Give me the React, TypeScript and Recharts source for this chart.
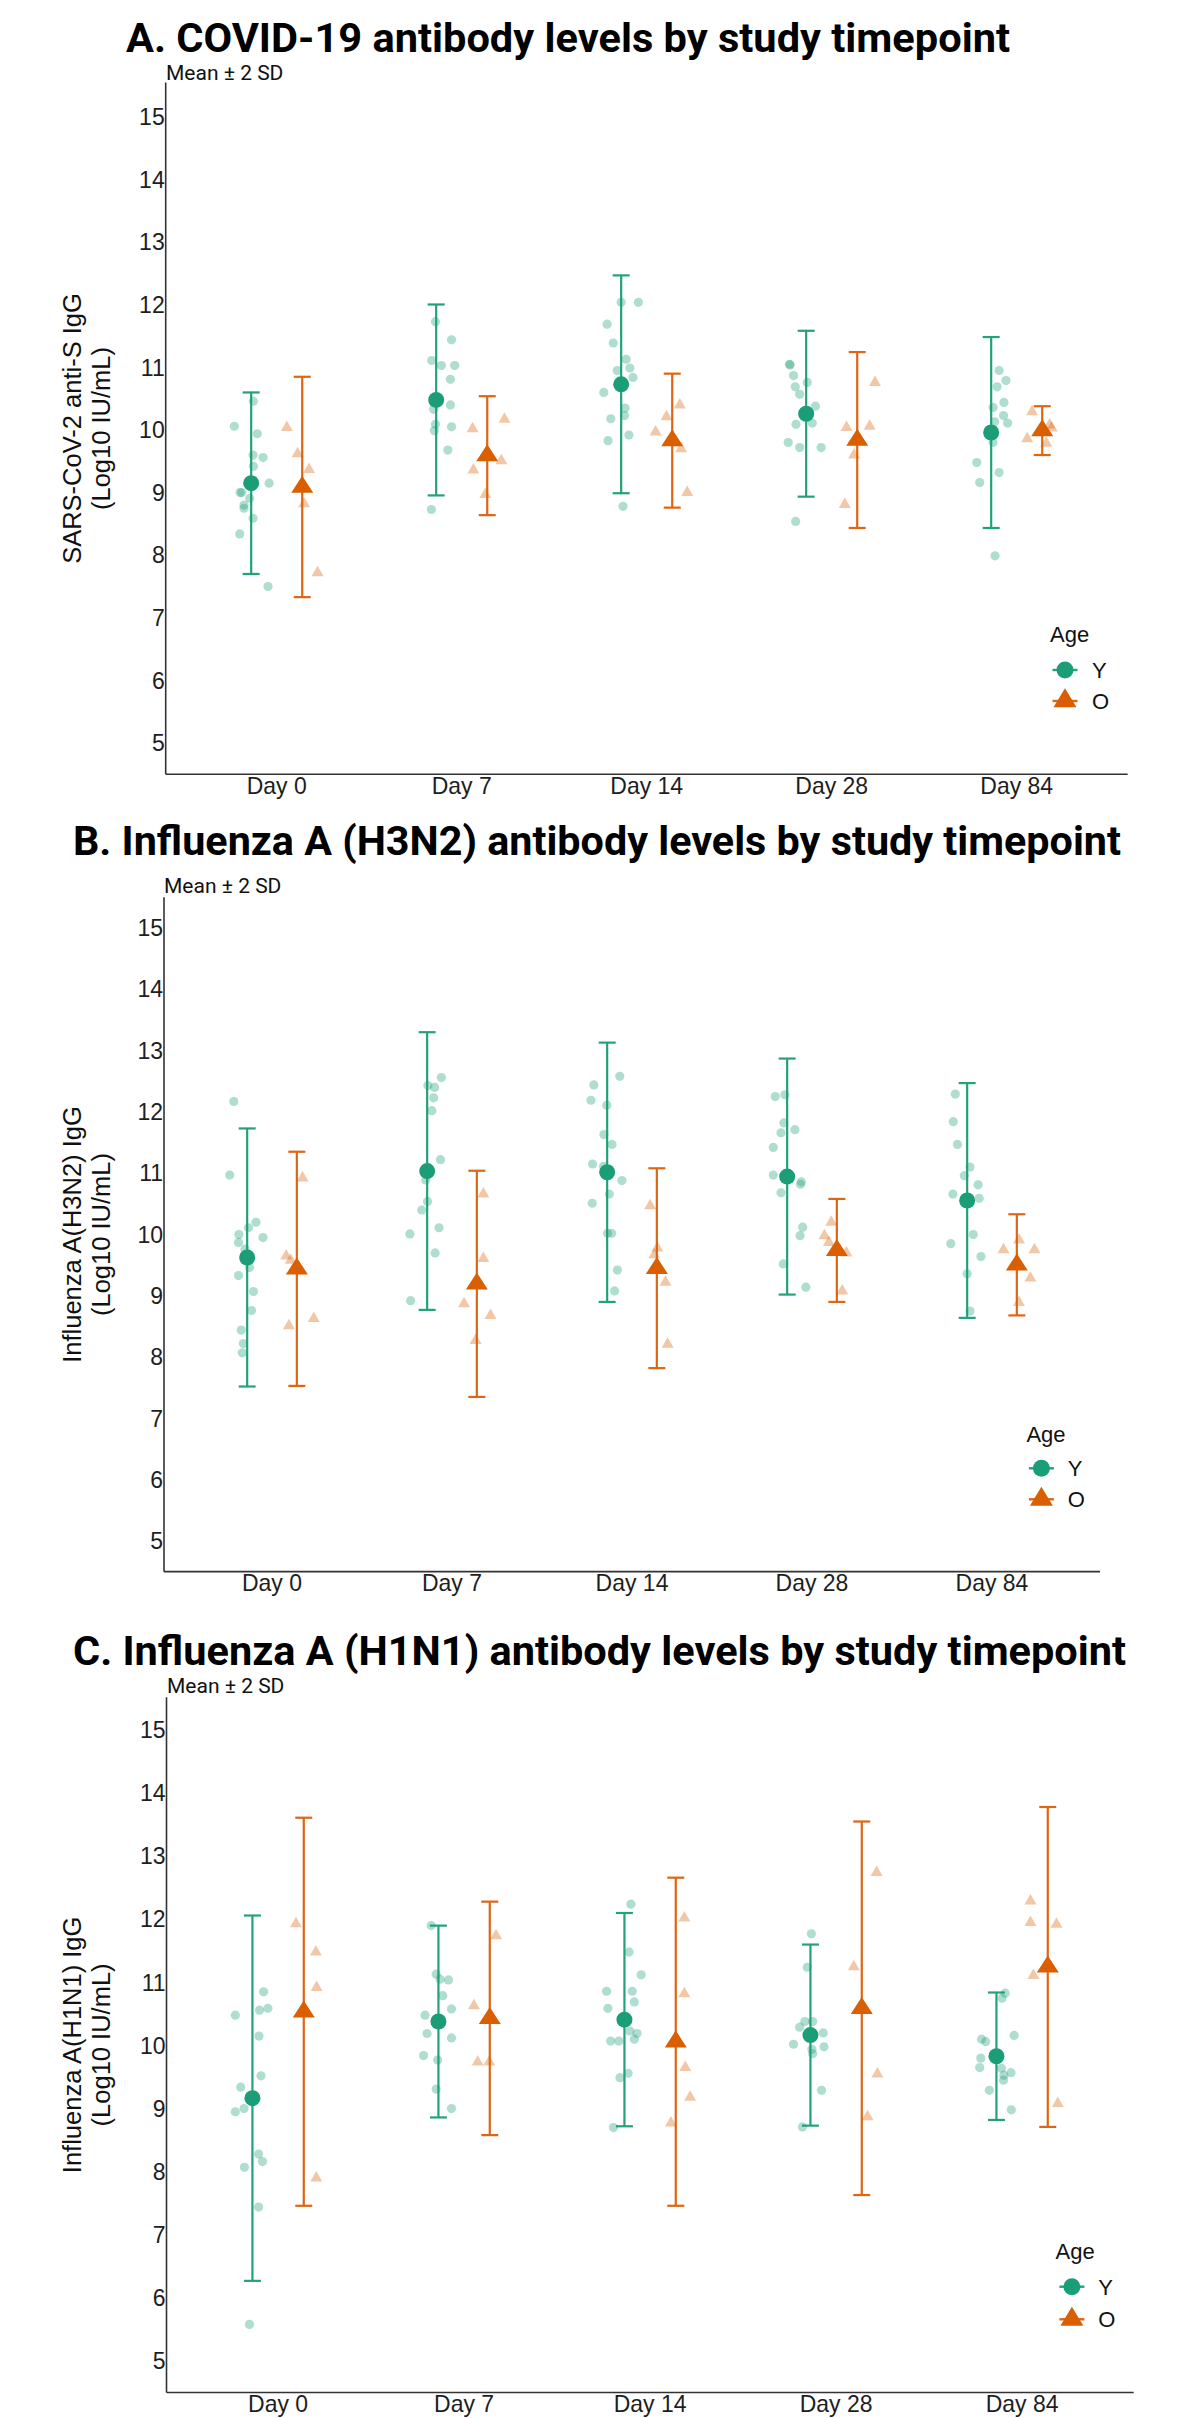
import React from "react";
import { ScatterChart, Scatter, XAxis, YAxis, ErrorBar } from "recharts";

// ---------- shared ----------
const days = ["Day 0", "Day 7", "Day 14", "Day 28", "Day 84"];
const yTicks = [5, 6, 7, 8, 9, 10, 11, 12, 13, 14, 15];
const xTicks = [1, 2, 3, 4, 5];
const GREEN = "#1B9E77";
const ORANGE = "#D95F02";
const GREEN_BAR = "#23A17B";
const ORANGE_BAR = "#DE6512";
const DODGE = 0.138;
const SANS = "'Liberation Sans', Arial, sans-serif";

type Pt = [number, number, number]; // [day index, jitter offset (category units), value]

// ---------- Panel A: COVID-19 ----------
const covidYMean = [9.15, 10.48, 10.73, 10.26, 9.96];
const covidY2SD = [1.45, 1.525, 1.74, 1.325, 1.525];
const covidOMean = [9.09, 9.59, 9.83, 9.84, 9.99];
const covidO2SD = [1.76, 0.95, 1.07, 1.405, 0.39];
const covidYPoints: Pt[] = [
  [0, 0.012, 10.46], [0, -0.091, 10.06], [0, 0.033, 9.94], [0, 0.01, 9.6], [0, 0.064, 9.56], [0, 0.012, 9.42],
  [0, 0.097, 9.15], [0, -0.06, 9.0], [0, -0.051, 9.0], [0, -0.008, 8.91], [0, -0.039, 8.8], [0, -0.039, 8.75],
  [0, 0.01, 8.59], [0, -0.062, 8.34], [0, 0.091, 7.5],
  [1, -0.004, 11.73], [1, 0.083, 11.44], [1, -0.024, 11.11], [1, 0.028, 11.03], [1, 0.1, 11.03], [1, 0.077, 10.81],
  [1, 0.077, 10.4], [1, -0.014, 10.33], [1, -0.004, 10.09], [1, 0.083, 10.05], [1, -0.01, 9.99], [1, 0.063, 9.68],
  [1, -0.026, 8.73],
  [2, 0.0, 12.04], [2, 0.093, 12.04], [2, -0.076, 11.69], [2, -0.043, 11.39], [2, 0.027, 11.13], [2, -0.021, 10.95],
  [2, 0.047, 10.99], [2, 0.064, 10.84], [2, -0.094, 10.6], [2, 0.021, 10.35], [2, 0.018, 10.23], [2, -0.056, 10.18],
  [2, -0.071, 9.83], [2, 0.042, 9.92], [2, 0.01, 8.78],
  [3, -0.09, 11.05], [3, -0.087, 11.04], [3, -0.068, 10.87], [3, 0.006, 10.76], [3, -0.059, 10.69], [3, -0.035, 10.57],
  [3, 0.05, 10.38], [3, -0.055, 10.09], [3, 0.033, 10.11], [3, -0.097, 9.8], [3, -0.035, 9.72], [3, 0.081, 9.72],
  [3, -0.057, 8.54],
  [4, 0.043, 10.95], [4, 0.08, 10.79], [4, 0.032, 10.69], [4, 0.069, 10.44], [4, 0.01, 10.36], [4, 0.067, 10.23],
  [4, 0.019, 10.13], [4, 0.089, 10.11], [4, 0.01, 9.8], [4, -0.078, 9.48], [4, 0.043, 9.32], [4, -0.062, 9.16],
  [4, 0.021, 7.99],
];
const covidOPoints: Pt[] = [
  [0, -0.083, 10.04], [0, -0.025, 9.62], [0, 0.037, 9.37], [0, 0.01, 8.82], [0, 0.083, 7.72],
  [1, -0.079, 10.02], [1, 0.093, 10.17], [1, 0.076, 9.51], [1, -0.075, 9.36], [1, -0.01, 8.97],
  [2, 0.041, 10.4], [2, -0.031, 10.21], [2, -0.09, 9.97], [2, 0.048, 9.7], [2, 0.081, 9.0],
  [3, 0.096, 10.76], [3, -0.058, 10.04], [3, 0.067, 10.06], [3, -0.017, 9.6], [3, -0.067, 8.81],
  [4, -0.055, 10.29], [4, 0.04, 10.08], [4, 0.051, 10.03], [4, -0.081, 9.86], [4, 0.022, 9.79],
];

// ---------- Panel B: H3N2 ----------
const h3n2YMean = [9.625, 11.035, 11.015, 10.945, 10.555];
const h3n2Y2SD = [2.105, 2.265, 2.115, 1.925, 1.915];
const h3n2OMean = [9.44, 9.195, 9.45, 9.74, 9.505];
const h3n2O2SD = [1.91, 1.845, 1.63, 0.84, 0.825];
const h3n2YPoints: Pt[] = [
  [0, -0.074, 12.17], [0, -0.097, 10.97], [0, 0.049, 10.2], [0, 0.007, 10.11], [0, -0.046, 10.0], [0, 0.088, 9.95],
  [0, -0.048, 9.87], [0, -0.012, 9.76], [0, 0.013, 9.46], [0, -0.048, 9.33], [0, 0.035, 9.07], [0, 0.024, 8.76],
  [0, -0.033, 8.44], [0, -0.021, 8.22], [0, -0.027, 8.07],
  [1, 0.079, 12.56], [1, 0.004, 12.43], [1, 0.041, 12.4], [1, 0.036, 12.23], [1, 0.026, 12.02], [1, 0.074, 11.22],
  [1, -0.008, 10.89], [1, 0.002, 10.54], [1, -0.03, 10.4], [1, -0.096, 10.01], [1, 0.066, 10.11], [1, 0.044, 9.7],
  [1, -0.092, 8.92],
  [2, 0.07, 12.58], [2, -0.074, 12.44], [2, -0.09, 12.19], [2, -0.002, 12.11], [2, -0.018, 11.63], [2, 0.027, 11.47],
  [2, -0.081, 11.15], [2, -0.02, 11.11], [2, 0.082, 10.88], [2, 0.012, 10.66], [2, -0.083, 10.51], [2, 0.002, 10.02],
  [2, 0.025, 10.02], [2, 0.057, 9.42], [2, 0.041, 9.08],
  [3, -0.066, 12.25], [3, -0.013, 12.28], [3, -0.018, 11.82], [3, 0.043, 11.71], [3, -0.034, 11.66], [3, -0.077, 11.42],
  [3, -0.077, 10.97], [3, 0.079, 10.86], [3, 0.074, 10.82], [3, -0.034, 10.68], [3, 0.086, 10.12], [3, 0.072, 9.98],
  [3, -0.021, 9.52], [3, 0.104, 9.14],
  [4, -0.066, 12.29], [4, -0.077, 11.84], [4, -0.054, 11.47], [4, 0.016, 11.1], [4, -0.016, 10.96], [4, 0.061, 10.81],
  [4, -0.079, 10.66], [4, 0.067, 10.59], [4, 0.034, 10.0], [4, -0.091, 9.85], [4, 0.077, 9.64], [4, 0.0, 9.36],
  [4, 0.016, 8.75],
];
const h3n2OPoints: Pt[] = [
  [0, 0.032, 10.92], [0, -0.059, 9.65], [0, -0.034, 9.58], [0, -0.044, 8.51], [0, 0.094, 8.63],
  [1, 0.036, 10.66], [1, 0.036, 9.61], [1, -0.071, 8.87], [1, 0.076, 8.68], [1, -0.007, 8.27],
  [2, -0.037, 10.47], [2, 0.003, 9.78], [2, -0.014, 9.67], [2, 0.048, 9.22], [2, 0.06, 8.21],
  [3, -0.031, 10.2], [3, -0.069, 9.98], [3, -0.044, 9.87], [3, 0.053, 9.7], [3, 0.03, 9.08],
  [4, 0.012, 9.91], [4, -0.074, 9.75], [4, 0.098, 9.75], [4, 0.075, 9.29], [4, 0.012, 8.89],
];

// ---------- Panel C: H1N1 ----------
const h1n1YMean = [9.165, 10.38, 10.41, 10.165, 9.83];
const h1n1Y2SD = [2.895, 1.52, 1.69, 1.435, 1.01];
const h1n1OMean = [10.535, 10.43, 10.06, 10.59, 11.245];
const h1n1O2SD = [3.075, 1.85, 2.6, 2.96, 2.535];
const h1n1YPoints: Pt[] = [
  [0, 0.06, 10.85], [0, 0.083, 10.59], [0, 0.038, 10.56], [0, -0.092, 10.48], [0, 0.035, 10.15], [0, 0.046, 9.52],
  [0, -0.063, 9.34], [0, -0.045, 9.0], [0, -0.092, 8.95], [0, 0.033, 8.28], [0, 0.054, 8.16], [0, -0.043, 8.07],
  [0, 0.033, 7.44], [0, -0.016, 5.58],
  [1, -0.039, 11.9], [1, -0.012, 11.13], [1, 0.009, 11.05], [1, 0.054, 11.04], [1, 0.023, 10.79], [1, 0.07, 10.58],
  [1, -0.072, 10.48], [1, -0.061, 10.19], [1, 0.07, 10.12], [1, -0.08, 9.84], [1, -0.004, 9.77], [1, -0.012, 9.31],
  [1, 0.07, 9.0],
  [2, 0.035, 12.24], [2, 0.025, 11.48], [2, 0.09, 11.12], [2, -0.096, 10.86], [2, 0.042, 10.86], [2, 0.053, 10.69],
  [2, -0.089, 10.59], [2, 0.029, 10.23], [2, 0.068, 10.19], [2, -0.074, 10.07], [2, -0.03, 10.07], [2, 0.053, 10.1],
  [2, 0.02, 9.56], [2, -0.024, 9.49], [2, -0.059, 8.7],
  [3, 0.005, 11.77], [3, -0.017, 11.24], [3, -0.03, 10.38], [3, 0.012, 10.38], [3, -0.058, 10.29], [3, 0.069, 10.2],
  [3, -0.091, 10.02], [3, 0.073, 9.98], [3, 0.008, 9.94], [3, 0.012, 9.87], [3, 0.06, 9.29], [3, -0.043, 8.71],
  [4, 0.047, 10.83], [4, 0.03, 10.75], [4, 0.095, 10.16], [4, -0.08, 10.1], [4, -0.058, 10.06], [4, -0.084, 9.8],
  [4, -0.09, 9.65], [4, 0.027, 9.64], [4, 0.078, 9.57], [4, 0.04, 9.53], [4, 0.038, 9.45], [4, -0.038, 9.29],
  [4, 0.08, 8.98],
];
const h1n1OPoints: Pt[] = [
  [0, -0.042, 11.93], [0, 0.065, 11.48], [0, 0.069, 10.92], [0, 0.067, 7.9],
  [1, 0.034, 11.74], [1, -0.085, 10.63], [1, -0.065, 9.74], [1, -0.003, 9.74],
  [2, 0.046, 12.02], [2, 0.046, 10.82], [2, 0.051, 9.65], [2, 0.077, 9.18], [2, -0.026, 8.77],
  [3, 0.08, 12.74], [3, -0.043, 11.25], [3, 0.084, 9.55], [3, 0.031, 8.87],
  [4, -0.093, 12.29], [4, -0.093, 11.95], [4, 0.047, 11.92], [4, -0.077, 11.11], [4, 0.054, 9.08],
];

// ---------- helpers ----------
function meanRows(means: number[], sd2: number[], sign: number) {
  return means.map((m, i) => ({ x: i + 1 + sign * DODGE, y: m, err: sd2[i] }));
}
function pointRows(pts: Pt[], sign: number) {
  return pts.map(([d, dx, v]) => ({ x: d + 1 + sign * DODGE + dx, y: v }));
}
function triPoints(cx: number, cy: number, w: number, h: number) {
  return `${cx},${cy - (2 * h) / 3} ${cx + w / 2},${cy + h / 3} ${cx - w / 2},${cy + h / 3}`;
}
const dotShape = (r: number, fill: string, op: number) => (p: any) =>
  <circle cx={p.cx} cy={p.cy} r={r} fill={fill} fillOpacity={op} />;
const triShape = (w: number, h: number, fill: string, op: number) => (p: any) =>
  <polygon points={triPoints(p.cx, p.cy, w, h)} fill={fill} fillOpacity={op} />;

const YW = 60;
const XH = 40;

type PanelProps = {
  top: number;
  plotTop: number;
  plotBottom: number;
  plotLeft: number;
  plotRight: number;
  domain: [number, number];
  yMean: number[];
  y2sd: number[];
  oMean: number[];
  o2sd: number[];
  yPts: Pt[];
  oPts: Pt[];
};

function Panel(p: PanelProps) {
  const innerTop = p.plotTop - p.top;
  const innerBottom = p.plotBottom - p.top;
  const H = innerBottom + XH + 6;
  const axisStyle = { stroke: "#333", strokeWidth: 1.6 };
  const tickStyle = { fill: "#1e1e1e", fontSize: 23, fontFamily: SANS };
  return (
    <div style={{ position: "absolute", left: 0, top: p.top, width: 1197, height: H }}>
      <ScatterChart
        width={1197}
        height={H}
        margin={{ top: innerTop, bottom: H - innerBottom - XH, left: p.plotLeft - YW, right: 1197 - p.plotRight }}
      >
        <XAxis
          type="number"
          dataKey="x"
          domain={[0.4, 5.6]}
          ticks={xTicks}
          interval={0}
          allowDataOverflow
          tickFormatter={(v: number) => days[v - 1]}
          tickLine={false}
          tickSize={0}
          tickMargin={3}
          height={XH}
          axisLine={axisStyle}
          tick={tickStyle}
        />
        <YAxis
          type="number"
          dataKey="y"
          domain={p.domain}
          ticks={yTicks}
          interval={0}
          allowDataOverflow
          tickLine={false}
          tickSize={0}
          tickMargin={1}
          width={YW}
          axisLine={axisStyle}
          tick={tickStyle}
        />
        <Scatter data={pointRows(p.yPts, -1)} shape={dotShape(4.6, GREEN, 0.35)} isAnimationActive={false} />
        <Scatter data={pointRows(p.oPts, 1)} shape={triShape(12, 10.5, ORANGE, 0.35)} isAnimationActive={false} />
        <Scatter data={meanRows(p.yMean, p.y2sd, -1)} shape={dotShape(8, GREEN, 1)} isAnimationActive={false}>
          <ErrorBar dataKey="err" direction="y" width={8.5} stroke={GREEN_BAR} strokeWidth={2.2} isAnimationActive={false} />
        </Scatter>
        <Scatter data={meanRows(p.oMean, p.o2sd, 1)} shape={triShape(22, 17, ORANGE, 1)} isAnimationActive={false}>
          <ErrorBar dataKey="err" direction="y" width={8.5} stroke={ORANGE_BAR} strokeWidth={2.2} isAnimationActive={false} />
        </Scatter>
      </ScatterChart>
    </div>
  );
}

type Deco = {
  title: string;
  titleX: number;
  titleY: number;
  titleLen: number;
  meanX: number;
  meanY: number;
  ylab1: string;
  ylab2: string;
  ylabCy: number;
  ageX: number;
  ageBase: number;
  markX: number;
  rowY: number;
  rowO: number;
  labX: number;
};

function Decorations({ d }: { d: Deco }) {
  return (
    <g>
      <text
        x={d.titleX}
        y={d.titleY}
        fontFamily="Roboto, 'Noto Sans', sans-serif"
        fontWeight={700}
        fontSize={41}
        textLength={d.titleLen}
        lengthAdjust="spacingAndGlyphs"
        fill="#000"
      >
        {d.title}
      </text>
      <text x={d.meanX} y={d.meanY} fontFamily="Roboto, sans-serif" fontSize={21} fill="#111">
        Mean ± 2 SD
      </text>
      <text
        transform={`translate(72,${d.ylabCy}) rotate(-90)`}
        textAnchor="middle"
        dominantBaseline="central"
        fontFamily={SANS}
        fontSize={25.5}
        fill="#111"
      >
        {d.ylab1}
      </text>
      <text
        transform={`translate(101,${d.ylabCy}) rotate(-90)`}
        textAnchor="middle"
        dominantBaseline="central"
        fontFamily={SANS}
        fontSize={25.5}
        fill="#111"
      >
        {d.ylab2}
      </text>
      <text x={d.ageX} y={d.ageBase} fontFamily={SANS} fontSize={22} fill="#111">
        Age
      </text>
      <line x1={d.markX - 12.5} x2={d.markX + 12.5} y1={d.rowY} y2={d.rowY} stroke={GREEN_BAR} strokeWidth={2.4} />
      <circle cx={d.markX} cy={d.rowY} r={8.5} fill={GREEN} />
      <text x={d.labX} y={d.rowY + 8} fontFamily={SANS} fontSize={22} fill="#111">
        Y
      </text>
      <line x1={d.markX - 12.5} x2={d.markX + 12.5} y1={d.rowO} y2={d.rowO} stroke={ORANGE_BAR} strokeWidth={2.4} />
      <polygon points={triPoints(d.markX, d.rowO, 23, 19)} fill={ORANGE} />
      <text x={d.labX} y={d.rowO + 8} fontFamily={SANS} fontSize={22} fill="#111">
        O
      </text>
    </g>
  );
}

const decoA: Deco = {
  title: "A. COVID-19 antibody levels by study timepoint",
  titleX: 126, titleY: 52, titleLen: 884,
  meanX: 166, meanY: 80,
  ylab1: "SARS-CoV-2 anti-S IgG", ylab2: "(Log10 IU/mL)", ylabCy: 428.5,
  ageX: 1050, ageBase: 642, markX: 1065, rowY: 670, rowO: 701, labX: 1092,
};
const decoB: Deco = {
  title: "B. Influenza A (H3N2) antibody levels by study timepoint",
  titleX: 73, titleY: 855, titleLen: 1048,
  meanX: 164, meanY: 893,
  ylab1: "Influenza A(H3N2) IgG", ylab2: "(Log10 IU/mL)", ylabCy: 1234.5,
  ageX: 1026.4, ageBase: 1441.7, markX: 1041.4, rowY: 1468.3, rowO: 1499.3, labX: 1067.8,
};
const decoC: Deco = {
  title: "C. Influenza A (H1N1) antibody levels by study timepoint",
  titleX: 73, titleY: 1665, titleLen: 1053,
  meanX: 167, meanY: 1693,
  ylab1: "Influenza A(H1N1) IgG", ylab2: "(Log10 IU/mL)", ylabCy: 2044.9,
  ageX: 1055.6, ageBase: 2259.3, markX: 1071.9, rowY: 2286.7, rowO: 2319.3, labX: 1098.3,
};

export default function App() {
  return (
    <div
      style={{
        position: "absolute",
        left: 0,
        top: 0,
        width: 1197,
        height: 2418,
        overflow: "hidden",
        background: "#fff",
      }}
    >
      <Panel
        top={0}
        plotTop={82.57}
        plotBottom={774.3}
        plotLeft={165.7}
        plotRight={1127.7}
        domain={[4.5, 15.55]}
        yMean={covidYMean}
        y2sd={covidY2SD}
        oMean={covidOMean}
        o2sd={covidO2SD}
        yPts={covidYPoints}
        oPts={covidOPoints}
      />
      <Panel
        top={830}
        plotTop={897.35}
        plotBottom={1571.65}
        plotLeft={164}
        plotRight={1100}
        domain={[4.5, 15.5]}
        yMean={h3n2YMean}
        y2sd={h3n2Y2SD}
        oMean={h3n2OMean}
        o2sd={h3n2O2SD}
        yPts={h3n2YPoints}
        oPts={h3n2OPoints}
      />
      <Panel
        top={1630}
        plotTop={1697.2}
        plotBottom={2392.55}
        plotLeft={166.5}
        plotRight={1133.7}
        domain={[4.5, 15.52]}
        yMean={h1n1YMean}
        y2sd={h1n1Y2SD}
        oMean={h1n1OMean}
        o2sd={h1n1O2SD}
        yPts={h1n1YPoints}
        oPts={h1n1OPoints}
      />
      <svg
        width={1197}
        height={2418}
        style={{ position: "absolute", left: 0, top: 0, pointerEvents: "none" }}
      >
        <Decorations d={decoA} />
        <Decorations d={decoB} />
        <Decorations d={decoC} />
      </svg>
    </div>
  );
}
